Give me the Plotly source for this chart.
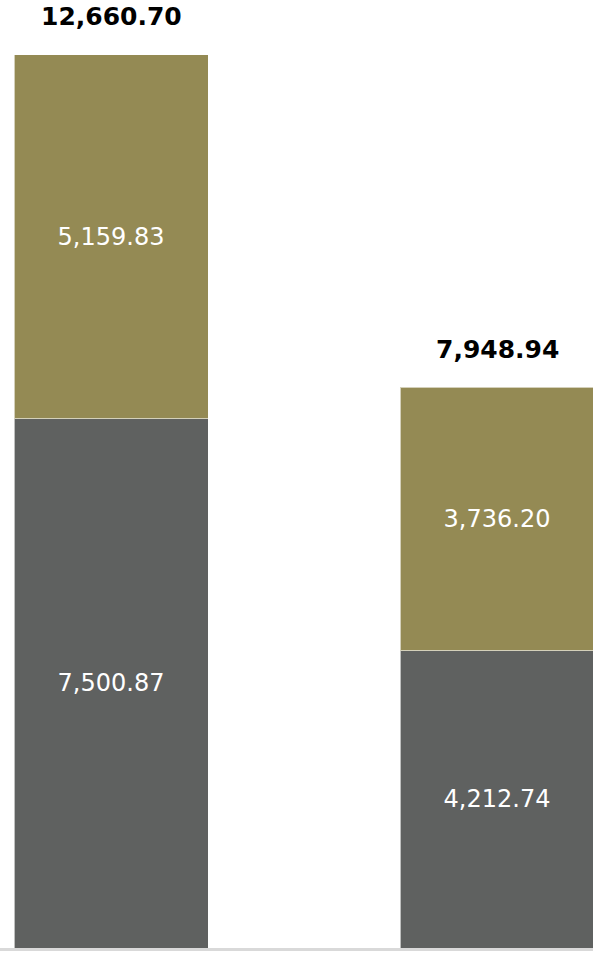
import plotly.graph_objects as go

categories = ["A", "B"]
bottom_values = [7500.87, 4212.74]
top_values = [5159.83, 3736.20]
totals = [12660.70, 7948.94]

bottom_color = "#5f6160"
top_color = "#948a54"
font_family = "DejaVu Sans, sans-serif"

def fmt(v):
    return f"{v:,.2f}"

fig = go.Figure()
fig.add_trace(go.Bar(
    x=categories, y=bottom_values, width=0.5026,
    marker=dict(color=bottom_color, line=dict(color="rgba(255,255,255,0.6)", width=1)),
    text=[fmt(v) for v in bottom_values], textposition="inside", insidetextanchor="middle",
    textfont=dict(color="white", size=24, family=font_family), hoverinfo="skip",
))
fig.add_trace(go.Bar(
    x=categories, y=top_values, width=0.5026,
    marker=dict(color=top_color, line=dict(color="rgba(255,255,255,0.6)", width=1)),
    text=[fmt(v) for v in top_values], textposition="inside", insidetextanchor="middle",
    textfont=dict(color="white", size=24, family=font_family), hoverinfo="skip",
))
for c, t in zip(categories, totals):
    fig.add_annotation(x=c, y=t, text=f"<b>{fmt(t)}</b>", showarrow=False,
                       yanchor="middle", yshift=38,
                       font=dict(color="black", size=25, family=font_family))

fig.update_layout(
    barmode="stack", width=593, height=956,
    margin=dict(l=0, r=0, t=0, b=8),
    plot_bgcolor="white", paper_bgcolor="white", showlegend=False,
    xaxis=dict(range=[-0.2876, 1.2487], showticklabels=False, showgrid=False,
               zeroline=False, showline=True, linecolor="#d9d9d9", linewidth=3),
    yaxis=dict(range=[0, 13440], visible=False, showgrid=False),
    uniformtext=dict(mode="show", minsize=24),
)
fig.write_html(
    "out.html",
    config={"displayModeBar": False},
    post_script="document.body.style.margin='0';document.body.style.overflow='hidden';",
)
